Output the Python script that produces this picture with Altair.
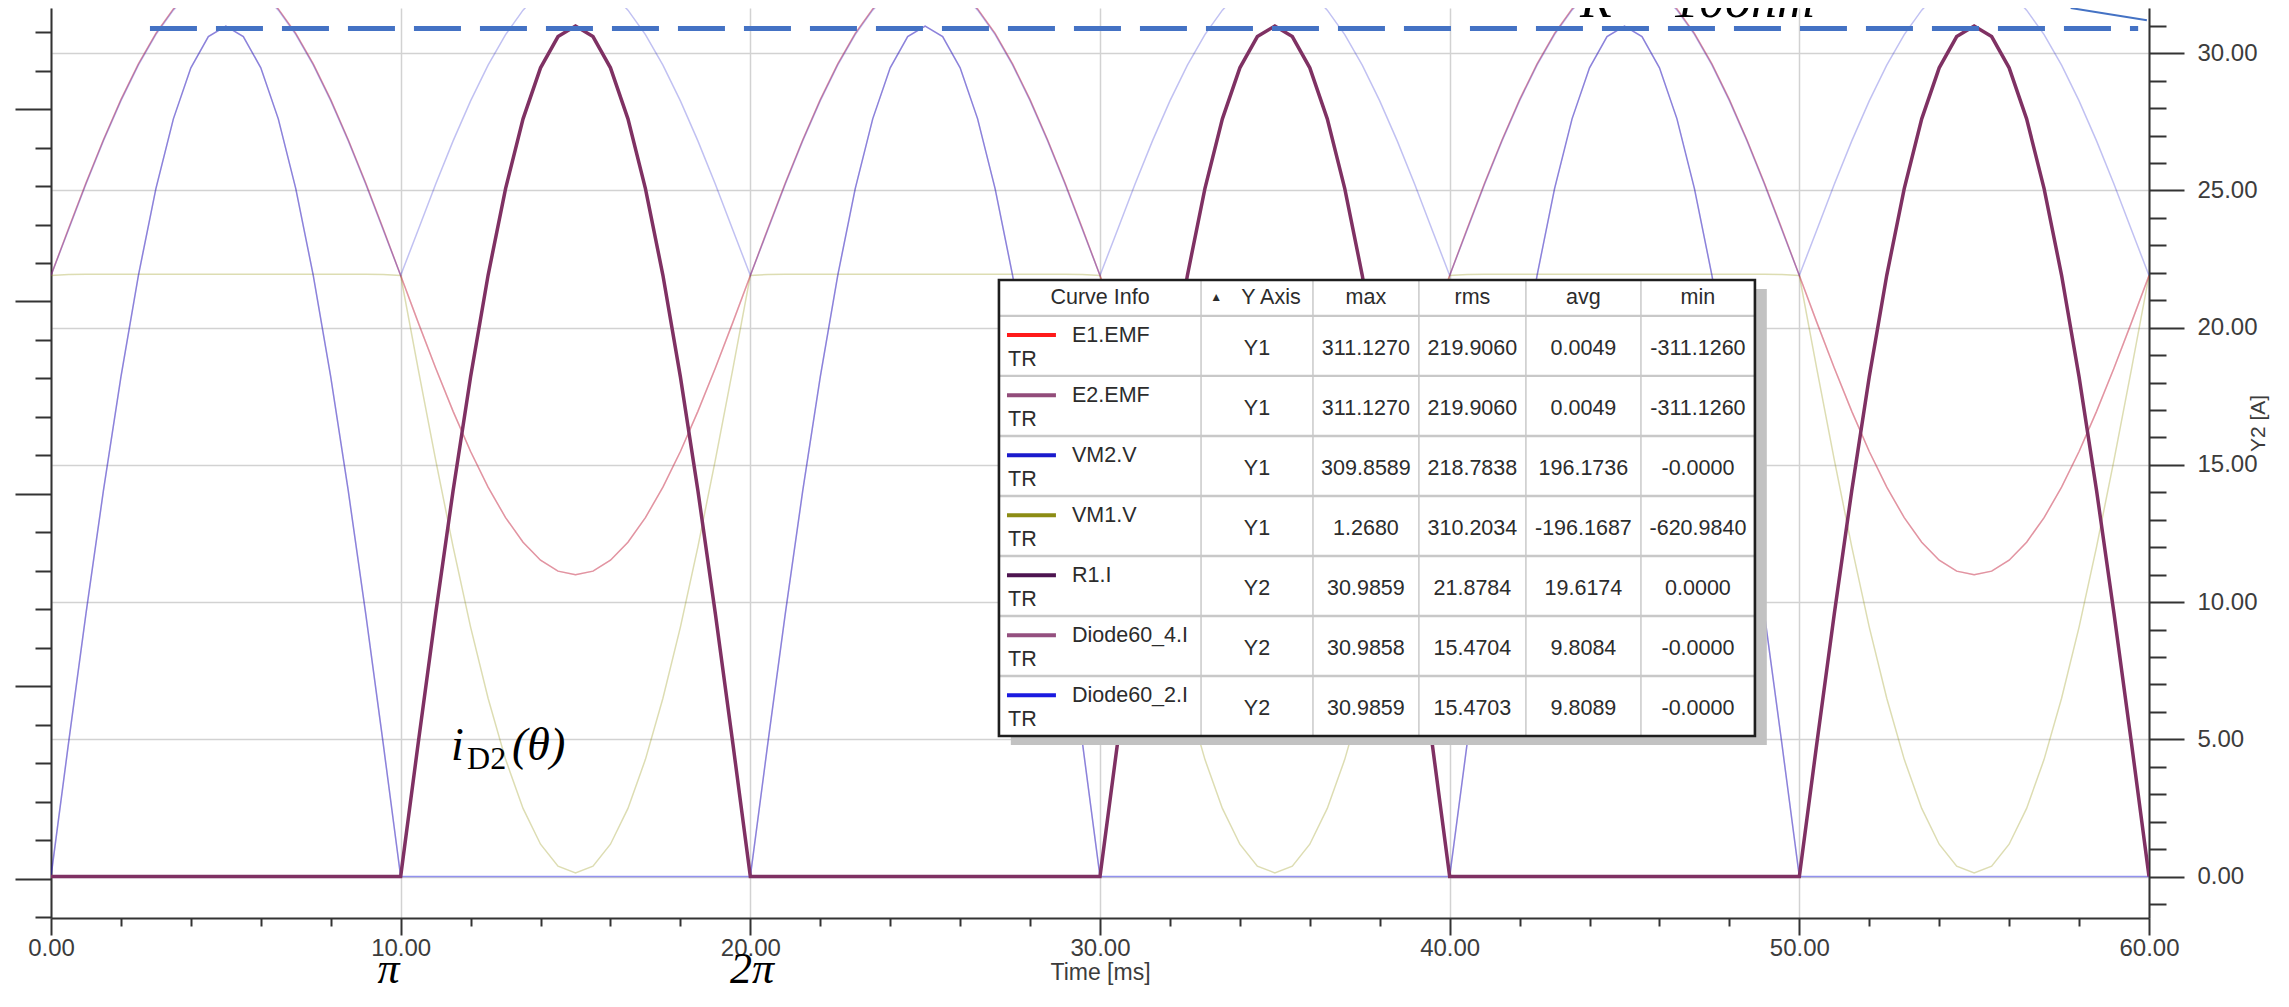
import altair as alt
import pandas as pd

# ---------------- data ----------------
# sampling of the time axis (ms), every 0.5 ms over 0..60 ms
time_ms = [i * 0.5 for i in range(121)]

# one 10 ms half period, read every 0.5 ms
current_half = [0.00, 4.85, 9.58, 14.07, 18.21, 21.91, 25.07, 27.61, 29.47, 30.61, 30.99,
                30.61, 29.47, 27.61, 25.07, 21.91, 18.21, 14.07, 9.58, 4.85, 0.00]
no_current_half = [0.00, 0.00, 0.00, 0.00, 0.00, 0.00, 0.00, 0.00, 0.00, 0.00, 0.00,
                   0.00, 0.00, 0.00, 0.00, 0.00, 0.00, 0.00, 0.00, 0.00, 0.00]
emf_pos_half = [0.0, 48.7, 96.1, 141.2, 182.9, 220.0, 251.7, 277.2, 295.9, 307.3, 311.1,
                307.3, 295.9, 277.2, 251.7, 220.0, 182.9, 141.2, 96.1, 48.7, 0.0]
emf_neg_half = [0.0, -48.7, -96.1, -141.2, -182.9, -220.0, -251.7, -277.2, -295.9, -307.3, -311.1,
                -307.3, -295.9, -277.2, -251.7, -220.0, -182.9, -141.2, -96.1, -48.7, 0.0]
vm2_half = [0.0, 47.4, 94.9, 140.0, 181.6, 218.7, 250.4, 275.9, 294.6, 306.0, 309.9,
            306.0, 294.6, 275.9, 250.4, 218.7, 181.6, 140.0, 94.9, 47.4, 0.0]
vm1_on_half = [0.0, 1.1, 1.2, 1.2, 1.2, 1.3, 1.3, 1.3, 1.3, 1.3, 1.3,
               1.3, 1.3, 1.3, 1.3, 1.3, 1.2, 1.2, 1.2, 1.1, 0.0]
vm1_off_half = [0.0, -97.0, -191.7, -282.0, -365.5, -439.5, -503.0, -554.0, -591.2, -614.0, -621.0,
                -614.0, -591.2, -554.0, -503.0, -439.5, -365.5, -282.0, -191.7, -97.0, 0.0]


def join_halves(halves):
    out = []
    for h in halves:
        out.extend(h[:-1])
    out.append(halves[-1][-1])
    return out


e1_emf = join_halves([emf_pos_half, emf_neg_half] * 3)
e2_emf = join_halves([emf_pos_half, emf_neg_half] * 3)
vm2_v = join_halves([vm2_half] * 6)
vm1_v = join_halves([vm1_on_half, vm1_off_half] * 3)
r1_i = join_halves([current_half] * 6)
diode4_i = join_halves([no_current_half, current_half] * 3)
diode2_i = join_halves([current_half, no_current_half] * 3)

# axis ticks
x_ticks = list(range(0, 61, 2))
y2_ticks = list(range(-1, 32))
y1_ticks = list(range(-667, 254, 40))

# legend table contents
tbl_headers = ["Curve Info", "Y Axis", "max", "rms", "avg", "min"]
tbl_names = ["E1.EMF", "E2.EMF", "VM2.V", "VM1.V", "R1.I", "Diode60_4.I", "Diode60_2.I"]
tbl_axis = ["Y1", "Y1", "Y1", "Y1", "Y2", "Y2", "Y2"]
tbl_max = ["311.1270", "311.1270", "309.8589", "1.2680", "30.9859", "30.9858", "30.9859"]
tbl_rms = ["219.9060", "219.9060", "218.7838", "310.2034", "21.8784", "15.4704", "15.4703"]
tbl_avg = ["0.0049", "0.0049", "196.1736", "-196.1687", "19.6174", "9.8084", "9.8089"]
tbl_min = ["-311.1260", "-311.1260", "-0.0000", "-620.9840", "0.0000", "-0.0000", "-0.0000"]
tbl_colors = ["#ff1a1a", "#924c7a", "#1a1acc", "#8c8c14", "#4d1450", "#94507f", "#1a1ae0"]

# ---------------- layout / style ----------------
W, H = 2098, 910
FONT = "Liberation Sans, Arial, sans-serif"
SERIF = "Liberation Serif, Times New Roman, serif"
AX = "#333333"
LBL = "#3c3c3c"

XSCALE = alt.Scale(domain=[0, 60], nice=False, zero=False)
Y1SCALE = alt.Scale(domain=[-667.9, 278.1], nice=False, zero=False)
Y2SCALE = alt.Scale(domain=[-1.51, 31.65], nice=False, zero=False)

XAXIS = alt.Axis(
    values=x_ticks, title="Time [ms]",
    labelExpr="datum.value % 10 === 0 ? format(datum.value, '.2f') : ''",
    tickSize={"condition": {"test": "datum.value % 10 === 0", "value": 17}, "value": 8},
    tickWidth=2, tickColor=AX, domainColor=AX, domainWidth=2,
    grid=True, gridColor="#d2d2d2", gridWidth=1.5,
    gridOpacity={"condition": {"test": "datum.value % 10 === 0", "value": 1}, "value": 0},
    labelFontSize=24, labelColor=LBL, labelFont=FONT, labelPadding=1,
    labelFlush=False, labelOverlap=False,
    titleFontSize=23, titleColor=LBL, titleFont=FONT, titleFontWeight="normal", titlePadding=1,
)
Y2AXIS = alt.Axis(
    orient="right", values=y2_ticks, title="Y2 [A]",
    labelExpr="datum.value % 5 === 0 ? format(datum.value, '.2f') : ''",
    tickSize={"condition": {"test": "datum.value % 5 === 0", "value": 35}, "value": 17},
    tickWidth=2, tickColor=AX, domainColor=AX, domainWidth=2,
    grid=True, gridColor="#d2d2d2", gridWidth=1.5,
    gridOpacity={"condition": {"test": "datum.value % 5 === 0", "value": 1}, "value": 0},
    labelFontSize=24, labelColor=LBL, labelFont=FONT, labelPadding=13,
    labelFlush=False, labelOverlap=False,
    titleFontSize=21, titleColor=LBL, titleFont=FONT, titleFontWeight="normal",
    titleAngle=270, titleX=119, titleY=415, titleAlign="center",
)
Y1AXIS = alt.Axis(
    orient="left", values=y1_ticks, title="", labels=False, grid=False,
    tickSize={"condition": {"test": "(datum.value + 27) % 200 === 0", "value": 36}, "value": 16},
    tickWidth=2, tickColor=AX, domainColor=AX, domainWidth=2,
)


def X(f="ms"):
    return alt.X(f"{f}:Q", scale=XSCALE, axis=XAXIS)


def Y1(f="v"):
    return alt.Y(f"{f}:Q", scale=Y1SCALE, axis=Y1AXIS)


def Y2(f="a"):
    return alt.Y(f"{f}:Q", scale=Y2SCALE, axis=Y2AXIS)


# ---------------- Y1 curves (volts) ----------------
def y1_line(vals, color, opacity, width=1.5):
    df = pd.DataFrame({"ms": time_ms, "v": vals})
    return alt.Chart(df).mark_line(color=color, opacity=opacity, strokeWidth=width, clip=True).encode(
        x=X(), y=Y1())


y1_group = alt.layer(
    y1_line(vm1_v, "#8f8f00", 0.3),
    y1_line(e1_emf, "#ff0000", 0.3),
    y1_line(e2_emf, "#9b4f7d", 0.3),
    y1_line(vm2_v, "#1a1ad0", 0.27),
)


# ---------------- Y2 curves (amps) ----------------
def y2_line(vals, color, opacity, width=1.5):
    df = pd.DataFrame({"ms": time_ms, "a": vals})
    return alt.Chart(df).mark_line(color=color, opacity=opacity, strokeWidth=width, clip=True).encode(
        x=X(), y=Y2())


# dashed R = 10 ohm peak level and callout
dash_df = pd.DataFrame({"ms": [2.83], "ms2": [59.69], "a": [30.9]})
dash = alt.Chart(dash_df).mark_rule(color="#4472C4", strokeWidth=5, strokeDash=[47, 19]).encode(
    x=X(), x2=alt.X2("ms2:Q"), y=Y2())
call_df = pd.DataFrame({"ms": [57.76], "ms2": [59.94], "a": [31.65], "a2": [31.2]})
callout = alt.Chart(call_df).mark_rule(color="#4472C4", strokeWidth=2).encode(
    x=X(), x2=alt.X2("ms2:Q"), y=Y2(), y2=alt.Y2("a2:Q"))

# ---------------- legend table (positioned in ms / A units) ----------------
col_edges = [27.11, 32.89, 36.09, 39.12, 42.18, 45.47, 48.73]
t_top, t_head_bot, row_h = 21.74, 20.43, 2.187
t_bot = t_head_bot - 7 * row_h
sh_dx, sh_dy = 0.34, 0.33

shadow_df = pd.DataFrame({"ms": [col_edges[0] + sh_dx], "ms2": [col_edges[-1] + sh_dx],
                          "a": [t_top - sh_dy], "a2": [t_bot - sh_dy]})
shadow = alt.Chart(shadow_df).mark_rect(color="#c2c2c2").encode(
    x=X(), x2=alt.X2("ms2:Q"), y=Y2(), y2=alt.Y2("a2:Q"))
box_df = pd.DataFrame({"ms": [col_edges[0]], "ms2": [col_edges[-1]], "a": [t_top], "a2": [t_bot]})
box_fill = alt.Chart(box_df).mark_rect(color="white").encode(
    x=X(), x2=alt.X2("ms2:Q"), y=Y2(), y2=alt.Y2("a2:Q"))
box_border = alt.Chart(box_df).mark_rect(fill="white", fillOpacity=0, stroke="#1e1e1e",
                                         strokeWidth=2.6).encode(
    x=X(), x2=alt.X2("ms2:Q"), y=Y2(), y2=alt.Y2("a2:Q"))

vsep_df = pd.DataFrame({"ms": col_edges[1:-1], "a": [t_top] * 5, "a2": [t_bot] * 5})
vsep = alt.Chart(vsep_df).mark_rule(color="#cdcdcd", strokeWidth=1.6).encode(
    x=X(), y=Y2(), y2=alt.Y2("a2:Q"))
hsep_a = [t_head_bot - j * row_h for j in range(7)]
hsep_df = pd.DataFrame({"ms": [col_edges[0]] * 7, "ms2": [col_edges[-1]] * 7, "a": hsep_a})
hsep = alt.Chart(hsep_df).mark_rule(color="#c8c8c8", strokeWidth=2.4).encode(
    x=X(), x2=alt.X2("ms2:Q"), y=Y2())

row_tops = [t_head_bot - j * row_h for j in range(7)]
sample_df = pd.DataFrame({"ms": [27.34] * 7, "ms2": [28.74] * 7,
                          "a": [t - 0.70 for t in row_tops], "c": tbl_colors})
samples = alt.Chart(sample_df).mark_rule(strokeWidth=4).encode(
    x=X(), x2=alt.X2("ms2:Q"), y=Y2(), color=alt.Color("c:N", scale=None))

col_centers = [(col_edges[i] + col_edges[i + 1]) / 2 for i in range(6)]
head_y = (t_top + t_head_bot) / 2
head_df = pd.DataFrame({"ms": [col_centers[0], 34.89] + col_centers[2:], "a": [head_y] * 6,
                        "t": tbl_headers})
TXT = dict(font=FONT, fontSize=21.5, color="#2c2c2c", baseline="middle")
head_txt = alt.Chart(head_df).mark_text(align="center", **TXT).encode(x=X(), y=Y2(), text="t:N")
tri_df = pd.DataFrame({"ms": [33.32], "a": [head_y + 0.05], "t": ["▲"]})
tri_txt = alt.Chart(tri_df).mark_text(align="center", font=FONT, fontSize=12, color="#2c2c2c",
                                      baseline="middle").encode(x=X(), y=Y2(), text="t:N")
name_df = pd.DataFrame({"ms": [29.20] * 7, "a": [t - 0.72 for t in row_tops], "t": tbl_names})
name_txt = alt.Chart(name_df).mark_text(align="left", **TXT).encode(x=X(), y=Y2(), text="t:N")
tr_df = pd.DataFrame({"ms": [27.37] * 7, "a": [t - 1.62 for t in row_tops], "t": ["TR"] * 7})
tr_txt = alt.Chart(tr_df).mark_text(align="left", **TXT).encode(x=X(), y=Y2(), text="t:N")

val_rows = []
for j in range(7):
    for ci, col in zip(range(1, 6), [tbl_axis, tbl_max, tbl_rms, tbl_avg, tbl_min]):
        val_rows.append({"ms": col_centers[ci], "a": row_tops[j] - 1.19, "t": col[j]})
val_df = pd.DataFrame(val_rows)
val_txt = alt.Chart(val_df).mark_text(align="center", **TXT).encode(x=X(), y=Y2(), text="t:N")

# ---------------- annotations ----------------
ann_df = pd.DataFrame({"ms": [11.44], "a": [4.25]})
ann_i = alt.Chart(ann_df).mark_text(text="i", font=SERIF, fontStyle="italic", fontSize=46,
                                    align="left", baseline="alphabetic", color="black").encode(
    x=X(), y=Y2())
ann_d2 = alt.Chart(ann_df).mark_text(text="D2", font=SERIF, fontSize=32, align="left",
                                     baseline="alphabetic", dx=16, dy=9, color="black").encode(
    x=X(), y=Y2())
ann_th = alt.Chart(ann_df).mark_text(text="(θ)", font=SERIF, fontStyle="italic", fontSize=46,
                                     align="left", baseline="alphabetic", dx=61, color="black").encode(
    x=X(), y=Y2())

pi_df = pd.DataFrame({"ms": [9.65, 20.05], "a": [-3.88, -3.88], "t": ["π", "2π"]})
pi_txt = alt.Chart(pi_df).mark_text(font=SERIF, fontStyle="italic", fontSize=44, align="center",
                                    baseline="alphabetic", color="black").encode(
    x=X(), y=Y2(), text="t:N")

r_df = pd.DataFrame({"ms": [43.73], "a": [31.32], "t": ["R = 10ohm"]})
r_txt = alt.Chart(r_df).mark_text(font=SERIF, fontStyle="italic", fontSize=52, align="left",
                                  baseline="alphabetic", color="black", clip=True).encode(
    x=X(), y=Y2(), text="t:N")

y2_group = alt.layer(
    y2_line(diode2_i, "#1a1ae6", 0.45),
    y2_line(r1_i, "#4d0a4d", 0.15),
    y2_line(diode4_i, "#7f3163", 1.0, 3.5),
    dash, callout,
    shadow, box_fill, vsep, hsep, box_border, samples,
    head_txt, tri_txt, name_txt, tr_txt, val_txt,
    ann_i, ann_d2, ann_th, pi_txt, r_txt,
)

chart = alt.layer(y1_group, y2_group).resolve_scale(y="independent").properties(
    width=W, height=H,
    autosize=alt.AutoSizeParams(type="none"),
    padding={"left": 43, "top": 0, "right": 130, "bottom": 75},
    background="white",
).configure_view(strokeWidth=0)

chart.save("out.html", embed_options={"renderer": "svg", "actions": False})
